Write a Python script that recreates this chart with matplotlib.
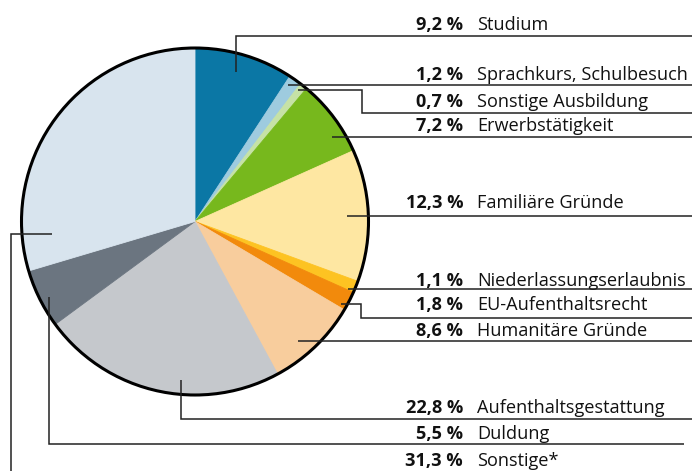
import numpy as np
import matplotlib
matplotlib.use("Agg")
import matplotlib.pyplot as plt
from matplotlib.patches import Circle

# Anteile (Prozent), im Uhrzeigersinn ab 12 Uhr
labels = ["Studium", "Sprachkurs, Schulbesuch", "Sonstige Ausbildung", "Erwerbstätigkeit",
          "Familiäre Gründe", "Niederlassungserlaubnis", "EU-Aufenthaltsrecht",
          "Humanitäre Gründe", "Aufenthaltsgestattung", "Duldung", "Sonstige*"]
values = [9.2, 1.2, 0.7, 7.2, 12.3, 1.1, 1.8, 8.6, 22.8, 5.5, 31.3]
pct_text = ["9,2 %", "1,2 %", "0,7 %", "7,2 %", "12,3 %", "1,1 %", "1,8 %",
            "8,6 %", "22,8 %", "5,5 %", "31,3 %"]
colors = ["#0b77a5", "#9ecbdf", "#c6e2a6", "#77b81d", "#fee7a2", "#fdc322",
          "#f28a0c", "#f8cd9d", "#c5c8cc", "#6b7580", "#d8e4ee"]

# Layout (Pixel, y nach unten)
cx, cy, rad = 195, 221.5, 173.5
text_base = [30, 80, 107, 131, 208, 286, 310, 336, 413, 439, 466]
line_y = [36, 85, 113, 137, 216, 289, 318, 341, 419, 444, None]
# Ankerposition im Segment (0..1) und Radiusanteil
anchor_pos = [0.46, 0.27, 0.26, 0.71, 0.5, 0.5, 0.83, 0.59, 0.41, 0.45, 0.11]
anchor_r = [0.893, 0.95, 0.96, 0.93, 0.876, 0.952, 0.97, 0.9, 0.916, 0.946, 0.83]
route = ["v", "h", "e", "h", "h", "h", "e", "h", "v", "v", "left"]
elbow_x = {2: 362, 6: 361}
line_end = [692, 692, 692, 692, 692, 692, 692, 692, 692, 684, None]

# Die Grafik fuellt den Kreis bis 100 %, "Sonstige" bekommt den Rest
shares = [v / 100 for v in values[:-1]]
shares.append(1 - sum(shares))

plt.rcParams['font.family'] = ['Open Sans', 'DejaVu Sans']

fig = plt.figure(figsize=(6.92, 4.71), dpi=100)
ax = fig.add_axes([0, 0, 1, 1])

wedges, _ = ax.pie(shares, colors=colors, startangle=-90, counterclock=True,
                   center=(cx, cy), radius=rad, frame=True, normalize=False,
                   wedgeprops={'linewidth': 0.6, 'antialiased': True})
for w, c in zip(wedges, colors):
    w.set_edgecolor(c)
ax.set_xlim(0, 692)
ax.set_ylim(471, 0)
ax.set_aspect('equal')
ax.axis('off')
ax.add_patch(Circle((cx, cy), rad, fill=False, ec="black", lw=2.2, zorder=5))

lc = "#222222"
for i, w in enumerate(wedges):
    th = np.radians(w.theta1 + anchor_pos[i] * (w.theta2 - w.theta1))
    axp = cx + anchor_r[i] * rad * np.cos(th)
    ayp = cy + anchor_r[i] * rad * np.sin(th)
    if route[i] == "v":
        xs = [axp, axp, line_end[i]]
        ys = [ayp, line_y[i], line_y[i]]
    elif route[i] == "h":
        xs = [axp, line_end[i]]
        ys = [line_y[i], line_y[i]]
    elif route[i] == "e":
        ex = elbow_x[i]
        xs = [axp, ex, ex, line_end[i]]
        ys = [ayp, ayp, line_y[i], line_y[i]]
    else:
        xs = [axp, 11, 11]
        ys = [ayp, ayp, 471]
    ax.plot(xs, ys, color=lc, lw=1.1, zorder=6, solid_capstyle='butt',
            solid_joinstyle='miter', clip_on=False)

    ax.text(463, text_base[i], pct_text[i], ha='right', va='baseline',
            fontsize=13.1, fontweight='bold', color="#111111")
    ax.text(477, text_base[i], labels[i], ha='left', va='baseline',
            fontsize=13.1, color="#111111")

fig.savefig("out.png", dpi=100)
